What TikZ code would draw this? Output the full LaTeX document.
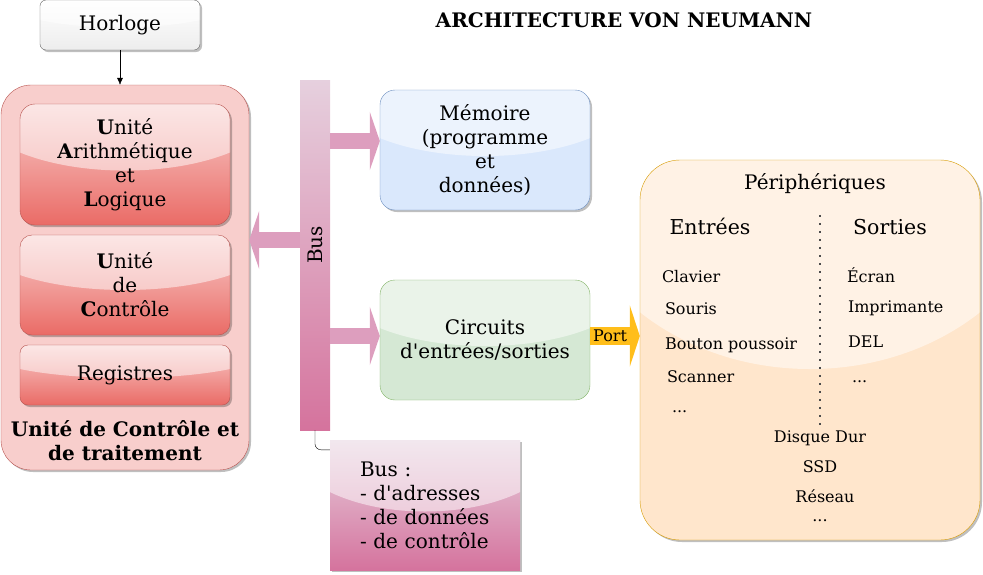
\documentclass[tikz,border=0pt]{standalone}
\usepackage{fontspec}
\setmainfont{DejaVu Serif}
\usetikzlibrary{arrows.meta, shapes, positioning, calc, shadows}

\definecolor{redFill}{HTML}{F8CECC}
\definecolor{redLine}{HTML}{B85450}
\definecolor{redDark}{HTML}{EA6B66}
\definecolor{blueFill}{HTML}{DAE8FC}
\definecolor{blueLine}{HTML}{6C8EBF}
\definecolor{greenFill}{HTML}{D5E8D4}
\definecolor{greenLine}{HTML}{82B366}
\definecolor{orangeFill}{HTML}{FFE6CC}
\definecolor{orangeLine}{HTML}{D79B00}
\definecolor{pinkLight}{HTML}{E6D0DE}
\definecolor{pinkDark}{HTML}{D5739D}
\definecolor{pinkArrow}{HTML}{DD9EBE}
\definecolor{grayLine}{HTML}{666666}
\definecolor{grayFill}{HTML}{EDEDED}
\definecolor{portFill}{HTML}{FFBE1A}

\begin{document}
\begin{tikzpicture}[x=1pt, y=-1pt,
		basefont/.style={font=\fontsize{20}{24}\selectfont},
		smallfont/.style={font=\fontsize{16}{19}\selectfont},
		glass/.style={path picture={\fill[white, fill opacity=0.5] let \p1=(path picture bounding box.north west), \p2=(path picture bounding box.south east) in ({(\x1+\x2)/2},{\y1}) ellipse [x radius={0.73*(\x2-\x1)}, y radius={0.55*(\y1-\y2)}];}},
		boxshadow/.style={drop shadow={shadow xshift=2pt, shadow yshift=-2pt, fill=black, opacity=0.25}},
		redbox/.style={rectangle, draw=redLine, top color=redFill, bottom color=redDark, glass, boxshadow, minimum width=210pt, align=center, basefont},
		busarrow/.style={draw=pinkArrow, line width=16pt, -{Triangle[length=10pt, width=58pt]}},
		item/.style={inner sep=0pt, smallfont}]
		\useasboundingbox (0,0) rectangle (983,574);

		\node (Titre) at (624,27) [anchor=base, font=\fontsize{20}{24}\selectfont\bfseries]{ARCHITECTURE VON NEUMANN};

		\node (Horloge) at (120,25) [rectangle, rounded corners=6pt, draw=grayLine, top color=white, bottom color=grayFill, glass, boxshadow, minimum width=160pt, minimum height=50pt, basefont]{Horloge};

		\node (UCT) at ($(Horloge) + (5,252.5)$) [rectangle, rounded corners=30pt, draw=redLine, fill=redFill, boxshadow, minimum width=248pt, minimum height=385pt]{};
		\draw[-{Latex[length=7pt, width=6pt]}] (Horloge.south) -- (Horloge.south |- UCT.north);

		\node (UAL) at ($(UCT) + (0,-113)$) [redbox, rounded corners=15pt, minimum height=121pt]{\textbf{U}nité\\\textbf{A}rithmétique\\et\\\textbf{L}ogique};
		\node (UC) at ($(UAL) + (0,120.5)$) [redbox, rounded corners=12pt, minimum height=100pt]{\textbf{U}nité\\de\\\textbf{C}ontrôle};
		\node (Registres) at ($(UC) + (0,90)$) [redbox, rounded corners=8pt, minimum height=60pt]{Registres};
		\node (UCTLabel) at ($(UCT.south) + (0,-29.5)$) [align=center, font=\fontsize{20}{24}\selectfont\bfseries]{Unité de Contrôle et\\de traitement};

		\node (Bus) at ($(UCT) + (190,-22.5)$) [rectangle, top color=pinkLight, bottom color=pinkDark, minimum width=30pt, minimum height=350pt, inner sep=0pt, basefont]{\rotatebox{90}{\hspace{20pt}Bus}};

		\node (Memoire) at ($(Bus) + (170,-105)$) [rectangle, rounded corners=15pt, draw=blueLine, fill=blueFill, glass, boxshadow, minimum width=210pt, minimum height=120pt, align=center, basefont]{Mémoire\\(programme\\et\\données)};
		\node (Circuits) at ($(Memoire) + (0,190)$) [rectangle, rounded corners=15pt, draw=greenLine, fill=greenFill, glass, minimum width=210pt, minimum height=120pt, align=center, basefont]{Circuits\\d\textquotesingle entrées/sorties};

		\coordinate (MemIn) at ($(Memoire.west) + (0,-9)$);
		\coordinate (CircIn) at ($(Circuits.west) + (0,-4)$);
		\coordinate (UCTIn) at ($(UCT.east) + (0,-37.5)$);
		\draw[busarrow] (Bus.east |- MemIn) -- (MemIn);
		\draw[busarrow] (Bus.east |- CircIn) -- (CircIn);
		\draw[busarrow] (Bus.west |- UCTIn) -- (UCTIn);

		\node (Legende) at ($(Bus) + (110,250)$) [rectangle, top color=pinkLight, bottom color=pinkDark, glass, boxshadow, minimum width=190pt, minimum height=130pt, inner xsep=30pt, text width=130pt, align=left, basefont]{Bus :\\- d\textquotesingle adresses\\- de~données\\- de~contrôle};
		\draw[rounded corners=6pt] (Bus.south) |- ($(Legende.north west) + (0,10)$);

		\node (Periph) at ($(Circuits) + (325,10)$) [rectangle, rounded corners=40pt, draw=orangeLine, fill=orangeFill, glass, boxshadow, minimum width=340pt, minimum height=380pt]{};
		\coordinate (PortIn) at ($(Periph.west) + (0,-14)$);
		\draw[draw=portFill, line width=18pt, -{Triangle[length=10pt, width=61pt]}] (Circuits.east |- PortIn) -- node[pos=0.4, smallfont, inner sep=0pt]{Port} (PortIn);

		\node (PeriphTitre) at ($(Periph.north) + (5,30)$) [anchor=base, inner sep=0pt, basefont]{Périphériques};
		\node (Entrees) at ($(Periph.north) + (-100,75)$) [anchor=base, inner sep=0pt, font=\fontsize{20.5}{24}\selectfont]{Entrées};
		\node (Sorties) at ($(Periph.north) + (80,75)$) [anchor=base, inner sep=0pt, font=\fontsize{20.5}{24}\selectfont]{Sorties};
		\coordinate (DotTop) at ($(Periph.north) + (10,55)$);
		\coordinate (DotBottom) at ($(Periph.north) + (10,265)$);
		\draw[line width=1.8pt, dash pattern=on 1.8pt off 6.2pt, draw=black!70] (DotTop) -- (DotBottom);

		\node (Clavier) at ($(Periph.north west) + (22,123)$) [anchor=base west, item]{Clavier};
		\node (Souris) at ($(Periph.north west) + (25,155)$) [anchor=base west, item]{Souris};
		\node (Bouton) at ($(Periph.north west) + (25,190)$) [anchor=base west, item]{Bouton poussoir};
		\node (Scanner) at ($(Periph.north west) + (27,223)$) [anchor=base west, item]{Scanner};
		\node (AutresEntrees) at ($(Periph.north west) + (32,253)$) [anchor=base west, item]{...};
		\node (Ecran) at ($(Periph.north west) + (207,123)$) [anchor=base west, item]{Écran};
		\node (Imprimante) at ($(Periph.north west) + (208,153)$) [anchor=base west, item]{Imprimante};
		\node (DEL) at ($(Periph.north west) + (208,188)$) [anchor=base west, item]{DEL};
		\node (AutresSorties) at ($(Periph.north west) + (212,223)$) [anchor=base west, item]{...};
		\node (Disque) at ($(Periph.north) + (10,283)$) [anchor=base, item]{Disque Dur};
		\node (SSD) at ($(Periph.north) + (10,313)$) [anchor=base, item]{SSD};
		\node (Reseau) at ($(Periph.north) + (15,343)$) [anchor=base, item]{Réseau};
		\node (AutresES) at ($(Periph.north) + (10,362)$) [anchor=base, item]{...};
\end{tikzpicture}
\end{document}
